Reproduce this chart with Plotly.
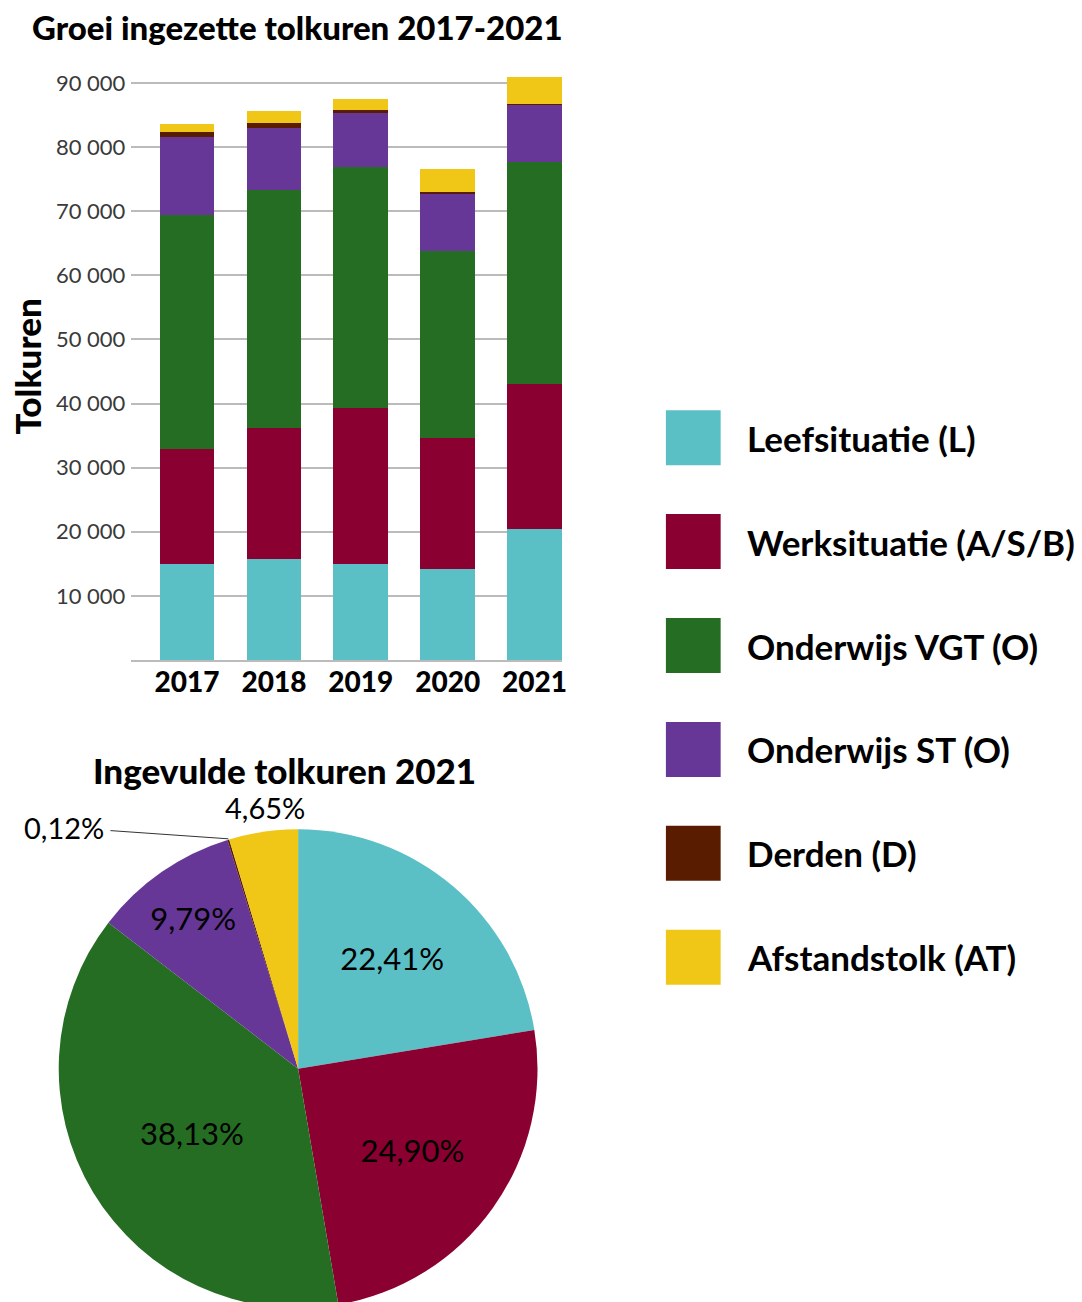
import math
import plotly.graph_objects as go

# ---------------- data ----------------
years = ["2017", "2018", "2019", "2020", "2021"]
categories = ["Leefsituatie (L)", "Werksituatie (A/S/B)", "Onderwijs VGT (O)",
              "Onderwijs ST (O)", "Derden (D)", "Afstandstolk (AT)"]
leefsituatie = [15000, 15700, 14900, 14150, 20400]
werksituatie = [17900, 20450, 24350, 20450, 22650]
onderwijs_vgt = [36550, 37150, 37650, 29150, 34700]
onderwijs_st = [12200, 9750, 8400, 9050, 8900]
derden = [700, 700, 450, 200, 110]
afstandstolk = [1250, 1850, 1800, 3650, 4250]
y_tickvals = [10000, 20000, 30000, 40000, 50000, 60000, 70000, 80000, 90000]
pie_pct_2021 = [22.41, 24.90, 38.13, 9.79, 0.12, 4.65]

bar_title = "Groei ingezette tolkuren 2017-2021"
pie_title = "Ingevulde tolkuren 2021"
y_title = "Tolkuren"

colors = ["#5BBFC6", "#8A0030", "#256D22", "#663797", "#5A1C00", "#F0C617"]

# ---------------- figure ----------------
W, H = 1082, 1312
FONT = "Lato"

def py(p):  # pixel from top -> paper y
    return 1 - p / H

fig = go.Figure()
series = [leefsituatie, werksituatie, onderwijs_vgt, onderwijs_st, derden, afstandstolk]
for name, vals, col in zip(categories, series, colors):
    fig.add_trace(go.Bar(x=years, y=vals, name=name, marker=dict(color=col, line=dict(width=0)),
                         showlegend=False, xaxis="x", yaxis="y"))

pie_text = [f"{v:.2f}".replace(".", ",") + "%" for v in pie_pct_2021]
PIE_L, PIE_R, PIE_T, PIE_B = 59, 540, 828, 1309
fig.add_trace(go.Pie(
    labels=categories, values=pie_pct_2021, sort=False, direction="clockwise", rotation=0,
    marker=dict(colors=colors, line=dict(width=0)),
    text=pie_text, textinfo="text",
    textposition=["inside", "inside", "inside", "inside", "none", "none"],
    insidetextorientation="horizontal",
    textfont=dict(family=FONT, size=31, color="black"),
    domain=dict(x=[PIE_L / W, PIE_R / W], y=[py(PIE_B), py(PIE_T)]),
    showlegend=False, hoverinfo="label+text",
))

fig.update_layout(
    width=W, height=H,
    margin=dict(l=0, r=0, t=0, b=0),
    paper_bgcolor="white", plot_bgcolor="white",
    barmode="stack", bargap=0.37,
    separators=", ",
    font=dict(family=FONT, color="black"),
    xaxis=dict(domain=[132 / W, 565 / W], type="category", range=[-0.64, 4.32],
               showline=True, linecolor="#BBBBBB", linewidth=1.5, showgrid=False,
               ticks="", ticklabelstandoff=-3,
               tickfont=dict(family=FONT, size=28, color="black", weight=900)),
    yaxis=dict(domain=[py(659.5), py(69.3)], range=[0, 92000],
               tickvals=y_tickvals, tickformat=",d",
               showgrid=True, gridcolor="#BBBBBB", gridwidth=1.5,
               zeroline=False, showline=False, ticks="", ticklabelstandoff=5,
               tickfont=dict(family=FONT, size=22, color="#3a3a3a")),
    showlegend=False,
)

annotations = [
    dict(text=bar_title, x=299 / W, y=py(26), xref="paper", yref="paper", showarrow=False,
         xanchor="center", yanchor="middle",
         font=dict(family=FONT, size=33, color="black", weight=900)),
    dict(text=y_title, x=27 / W, y=py(366), xref="paper", yref="paper", showarrow=False,
         textangle=-90, xanchor="center", yanchor="middle",
         font=dict(family=FONT, size=35, color="black", weight=900)),
    dict(text=pie_title, x=286 / W, y=py(770), xref="paper", yref="paper", showarrow=False,
         xanchor="center", yanchor="middle",
         font=dict(family=FONT, size=35, color="black", weight=900)),
]

# outside labels for the two small slices, placed from the pie geometry
cx, cy0 = (PIE_L + PIE_R) / 2, (PIE_T + PIE_B) / 2
R = (PIE_R - PIE_L) / 2
total = sum(pie_pct_2021)
starts = []
acc = 0.0
for v in pie_pct_2021:
    starts.append(acc)
    acc += v
def mid_angle(i):
    return 2 * math.pi * (starts[i] + pie_pct_2021[i] / 2) / total
# Afstandstolk label: just outside the slice
a = mid_angle(5)
lx, ly = cx + 1.1 * R * math.sin(a), cy0 - 1.1 * R * math.cos(a)
annotations.append(dict(text=pie_text[5], x=(lx + 5) / W, y=py(ly), xref="paper", yref="paper",
                        showarrow=False, xanchor="center", yanchor="middle",
                        font=dict(family=FONT, size=29, color="black")))
# Derden label: leader line to the slice edge
a = mid_angle(4)
tx, ty = cx + R * math.sin(a), cy0 - R * math.cos(a)
annotations.append(dict(text=pie_text[4], x=tx / W, y=py(ty), xref="paper", yref="paper",
                        showarrow=True, arrowhead=0, arrowwidth=1, arrowcolor="#333333",
                        ax=65 - tx, ay=827 - ty, axref="pixel", ayref="pixel", standoff=0,
                        startstandoff=0, borderpad=6,
                        font=dict(family=FONT, size=29, color="black")))

shapes = []
for i, (name, col) in enumerate(zip(categories, colors)):
    cyy = 437 + i * 104
    shapes.append(dict(type="rect", xref="paper", yref="paper",
                       x0=669 / W, x1=724 / W, y0=py(cyy + 27.5), y1=py(cyy - 27.5),
                       fillcolor=col, line=dict(width=0)))
    annotations.append(dict(text=name, x=748 / W, y=py(cyy), xref="paper", yref="paper",
                            showarrow=False, xanchor="left", yanchor="middle",
                            font=dict(family=FONT, size=35, color="black", weight=700)))
fig.update_layout(annotations=annotations, shapes=shapes)

fig.write_html("out.html", config={"displayModeBar": False},
               post_script="document.body.style.margin='0';document.body.style.overflow='hidden';")
